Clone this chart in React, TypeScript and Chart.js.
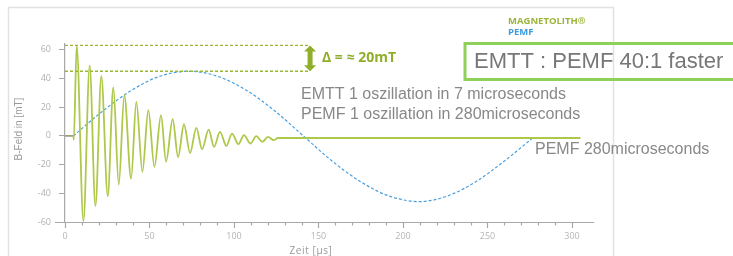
import React, { useEffect, useRef } from "react";
import { Chart, registerables } from "chart.js";

Chart.register(...registerables);

// EMTT damped oscillation (time in µs, field in mT) – extremes
const emttTime = [0, 5, 5.2, 6.9, 10.9, 14.6, 18, 21.5, 25.3, 28.6, 31.8, 35.1, 39.1, 42.2, 45.8, 49.3, 52.9, 56.8, 59.8, 63.7, 66.9, 70.4, 74, 77.7, 81.1, 85, 88.2, 91.7, 95.5, 98.8, 102.6, 105.9, 109.7, 113.2, 116.8, 120.1, 123.5, 126, 305];
const emttField = [0, 0, -2.6, 62.8, -59.3, 49, -48.8, 41.6, -42, 33.7, -34, 28.4, -29.8, 23.7, -25, 17.9, -21.6, 14.4, -18, 11.6, -14.7, 8.1, -12, 5.6, -9.3, 4.4, -7.7, 2.8, -7, 1.6, -5.8, 0.5, -5.3, -0.2, -4.2, -0.7, -3, -1.5, -1.5];

// PEMF slow oscillation
const pemfTime = [5, 22, 39, 56, 73, 90, 107, 124, 141, 158, 175, 192, 210, 226, 243, 260, 277];
const pemfField = [0, 17, 31.5, 41.5, 45, 41.6, 32, 17.5, 0, -17.5, -32, -42, -45.8, -42, -32, -17.5, -1.2];

// reference levels (peak values)
const peakLevels = [63, 45];
const levelSpan = [0, 145];

const xTickValues = [0, 10, 20, 30, 40, 50, 60, 70, 80, 90, 100, 110, 120, 130, 140, 150, 160, 170, 180, 190, 200, 210, 220, 230, 240, 250, 260, 270, 280, 290, 300];
const yTickValues = [-60, -40, -20, 0, 20, 40, 60];

const GREEN = "#adc84a";
const LEVEL_GREEN = "#9ab832";
const DARK_GREEN = "#8fae2a";
const BLUE = "#4a9fe0";
const AXIS = "#a8a8a8";

const annotations = {
  id: "annotations",
  beforeDraw(chart: any) {
    const ctx = chart.ctx;
    ctx.save();
    ctx.strokeStyle = "#e2e2e2";
    ctx.lineWidth = 1.5;
    ctx.strokeRect(8.5, 7.5, 605, 320);
    ctx.restore();
  },
  afterDraw(chart: any) {
    const ctx = chart.ctx;
    const xs = chart.scales.x;
    const ys = chart.scales.y;
    const area = chart.chartArea;
    ctx.save();
    // x axis line (extends left of y axis)
    ctx.strokeStyle = AXIS;
    ctx.lineWidth = 1.2;
    ctx.beginPath();
    ctx.moveTo(55, Math.round(area.bottom) + 0.5);
    ctx.lineTo(area.right, Math.round(area.bottom) + 0.5);
    ctx.stroke();
    // minor ticks
    ctx.beginPath();
    for (const v of xTickValues) {
      if (v % 50 === 0) continue;
      const px = Math.round(xs.getPixelForValue(v)) + 0.5;
      ctx.moveTo(px, area.bottom);
      ctx.lineTo(px, area.bottom + 3.5);
    }
    ctx.stroke();

    // double arrow
    const ax = xs.getPixelForValue(levelSpan[1]);
    const yTop = ys.getPixelForValue(peakLevels[0]);
    const yBot = ys.getPixelForValue(peakLevels[1]);
    ctx.fillStyle = DARK_GREEN;
    ctx.beginPath();
    ctx.moveTo(ax, yTop);
    ctx.lineTo(ax + 6, yTop + 6);
    ctx.lineTo(ax + 2.5, yTop + 6);
    ctx.lineTo(ax + 2.5, yBot - 6);
    ctx.lineTo(ax + 6, yBot - 6);
    ctx.lineTo(ax, yBot);
    ctx.lineTo(ax - 6, yBot - 6);
    ctx.lineTo(ax - 2.5, yBot - 6);
    ctx.lineTo(ax - 2.5, yTop + 6);
    ctx.lineTo(ax - 6, yTop + 6);
    ctx.closePath();
    ctx.fill();

    ctx.textBaseline = "middle";
    ctx.textAlign = "left";
    ctx.fillStyle = DARK_GREEN;
    ctx.font = "bold 14px 'Open Sans', sans-serif";
    ctx.fillText("Δ = ≈ 20mT", 322, 58);

    ctx.font = "bold 9.5px 'Open Sans', sans-serif";
    ctx.fillStyle = "#9bb43e";
    ctx.fillText("MAGNETOLITH®", 508, 21);
    ctx.fillStyle = "#3b9be0";
    ctx.fillText("PEMF", 508, 32);

    ctx.strokeStyle = "#8ed15a";
    ctx.lineWidth = 3;
    ctx.strokeRect(465, 43.5, 300, 36);

    ctx.fillStyle = "#777777";
    ctx.font = "22px 'Liberation Sans', sans-serif";
    ctx.fillText("EMTT : PEMF 40:1 faster", 474, 62);

    ctx.fillStyle = "#888888";
    ctx.font = "16px 'Liberation Sans', sans-serif";
    ctx.fillText("EMTT 1 oszillation in 7 microseconds", 301, 95);
    ctx.fillText("PEMF 1 oszillation in 280microseconds", 301, 115);
    ctx.fillText("PEMF 280microseconds", 535, 150);

    // axis titles
    ctx.fillStyle = "#9a9a9a";
    ctx.font = "10px 'Liberation Sans Narrow', 'Liberation Sans', sans-serif";
    ctx.save();
    ctx.translate(19, 129);
    ctx.rotate(-Math.PI / 2);
    ctx.textAlign = "center";
    ctx.fillText("B-Feld in [mT]", 0, 0);
    ctx.restore();

    ctx.textAlign = "center";
    ctx.font = "10px 'Open Sans', sans-serif";
    (ctx as any).letterSpacing = "0.6px";
    ctx.fillText("Zeit [µs]", 311, 251);
    ctx.restore();
  },
};

export default function App() {
  const ref = useRef<HTMLCanvasElement | null>(null);
  useEffect(() => {
    if (!ref.current) return;
    const emtt = emttTime.map((t, i) => ({ x: t, y: emttField[i] }));
    const pemf = pemfTime.map((t, i) => ({ x: t, y: pemfField[i] }));
    const levels = peakLevels.map((lv) => ({
      type: "line" as const,
      data: levelSpan.map((x) => ({ x, y: lv })),
      borderColor: LEVEL_GREEN,
      borderWidth: 1.3,
      borderDash: [3, 2],
      pointRadius: 0,
      tension: 0,
    }));
    const chart = new Chart(ref.current, {
      type: "line",
      data: {
        datasets: [
          ...levels,
          {
            data: emtt,
            borderColor: GREEN,
            borderWidth: 1.8,
            pointRadius: 0,
            cubicInterpolationMode: "monotone",
            segment: {
              borderColor: (c: any) => (c.p1.parsed.x <= 5 ? "#9ea27a" : GREEN),
            },
          },
          {
            data: pemf,
            borderColor: BLUE,
            borderWidth: 1.2,
            borderDash: [3, 2],
            pointRadius: 0,
            cubicInterpolationMode: "monotone",
          },
        ] as any,
      },
      options: {
        animation: false,
        responsive: false,
        layout: { padding: { left: 35, right: 139, top: 44, bottom: 14 } },
        plugins: { legend: { display: false }, tooltip: { enabled: false } },
        scales: {
          x: {
            type: "linear",
            min: 0,
            max: 313,
            afterBuildTicks: (s: any) => {
              s.ticks = xTickValues.map((v) => ({ value: v }));
            },
            afterFit: (s: any) => {
              s.height = 20;
            },
            border: { display: false },
            grid: {
              drawOnChartArea: false,
              drawTicks: true,
              tickLength: 6,
              tickColor: (c: any) => (c.tick && c.tick.value % 50 === 0 ? AXIS : "rgba(0,0,0,0)"),
              tickWidth: 1.2,
            },
            ticks: {
              autoSkip: false,
              maxRotation: 0,
              padding: 3,
              color: "#b5b5b5",
              font: { family: "'Open Sans', sans-serif", size: 9 },
              callback: (v: any) => (Number(v) % 50 === 0 ? String(v) : ""),
            },
          },
          y: {
            type: "linear",
            min: -60,
            max: 64,
            afterBuildTicks: (s: any) => {
              s.ticks = yTickValues.map((v) => ({ value: v }));
            },
            afterFit: (s: any) => {
              s.width = 30;
            },
            border: { display: true, color: AXIS, width: 1.2 },
            grid: {
              drawOnChartArea: false,
              drawTicks: true,
              tickLength: 6,
              tickColor: AXIS,
              tickWidth: 1,
            },
            ticks: {
              padding: 8,
              color: "#b0b0b0",
              font: { family: "'Open Sans', sans-serif", size: 9 },
            },
          },
        },
      },
      plugins: [annotations],
    });
    return () => chart.destroy();
  }, []);
  return (
    <div style={{ position: "absolute", left: 0, top: 0, width: 733, height: 256, background: "#fff" }}>
      <canvas ref={ref} width={733} height={256} style={{ width: 733, height: 256 }} />
    </div>
  );
}
